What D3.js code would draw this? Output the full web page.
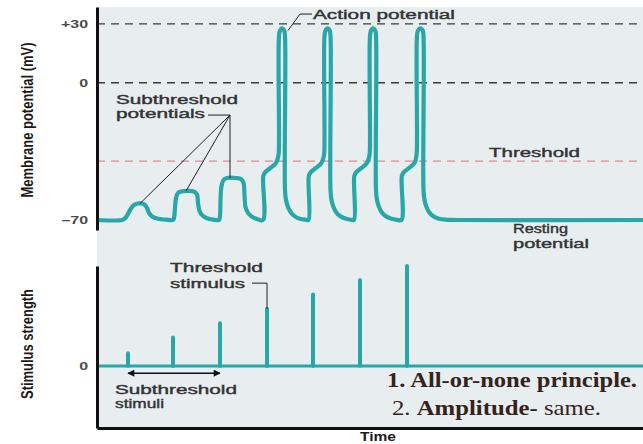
<!DOCTYPE html>
<html>
<head>
<meta charset="utf-8">
<script src="https://cdn.jsdelivr.net/npm/d3@7"></script>
<style>
  body { margin: 0; background: #fff; }
  svg { display: block; }
  .lbl { font-family: "Liberation Sans", Arial, sans-serif; font-size: 13px; fill: #333; stroke: #333; stroke-width: 0.4px; }
  .tick-lbl { font-family: "Liberation Sans", Arial, sans-serif; font-size: 11px; font-weight: bold; fill: #4a4a4a; }
  .ytitle { font-family: "Liberation Sans Narrow", "Liberation Sans", Arial, sans-serif; font-size: 13px; font-weight: bold; fill: #1a1a1a; }
  .note { font-family: "Liberation Serif", "Times New Roman", serif; font-size: 21px; fill: #34231a; }
</style>
</head>
<body>
<div id="chart"></div>
<script>
const width = 643;
const height = 444;

// membrane potential trace, [time, mV] (time in arbitrary units)
const restStart = [[0, -70], [25, -70]];
const subthreshold1 = [[28, -69.2], [31, -66.9], [34, -64.1], [37, -62.4], [41, -61.6], [45, -61.6], [48, -62.4], [50, -63.9], [52, -66.4], [55, -68.2], [61, -69.4], [69, -69.8], [76, -70]];
const subthreshold2 = [[77, -69], [78, -63.9], [79, -58.8], [81, -56.2], [84, -55.5], [91, -55.2], [97, -55.5], [100, -57], [101, -61.3], [102.5, -65.4], [105.5, -67.7], [110, -69.1], [116, -69.8], [122, -70]];
const subthreshold3 = [[123, -68], [123.5, -59.8], [124.5, -52.7], [126.5, -49.6], [130, -48.6], [139, -48.6], [144, -49.1], [146.5, -51.1], [147.5, -57.3], [148.5, -63.4], [151, -66.4], [155, -68.4], [160, -69.5], [166, -70]];
const action1 = [[166.3, -47.6], [168, -45.8], [179, -40.9], [181.5, -36.9], [182, -29.2], [182, 23.8], [183, 26.6], [185, 27.7], [187.2, 26.6], [188, 23.8], [188, -54.7], [189, -59.8], [191, -63.4], [193.5, -65.9], [197.5, -68], [203, -69.4], [209, -69.9], [211.5, -70]];
const action2 = [[211.8, -47.6], [213.5, -45.8], [224.5, -40.9], [227, -36.9], [227.5, -29.2], [227.5, 23.8], [228.5, 26.6], [230.5, 27.7], [232.7, 26.6], [233.5, 23.8], [233.5, -54.7], [234.5, -59.8], [236.5, -63.4], [239, -65.9], [243, -68], [249, -69.4], [254.5, -69.9], [257, -70]];
const action3 = [[257.3, -47.6], [259, -45.8], [270, -40.9], [272.5, -36.9], [273, -29.2], [273, 23.8], [274, 26.6], [276, 27.7], [278.2, 26.6], [279, 23.8], [279, -54.7], [280, -59.8], [282, -63.4], [284.5, -65.9], [288.5, -68], [294.5, -69.4], [300, -69.9], [304.5, -70]];
const action4 = [[304.8, -47.6], [306.5, -45.8], [317.5, -40.9], [319.5, -36.9], [320, -29.2], [320, 23.8], [321, 26.6], [323.3, 27.7], [325.7, 26.6], [326.5, 23.8], [326.5, -54.7], [327.5, -59.8], [329.5, -63.4], [332, -65.9], [336, -68], [342, -69.4], [350, -69.9], [360, -70]];
const restEnd = [[546, -70]];

// stimuli
const stimulusTimes = [31, 76, 123, 170, 216, 263, 310];
const stimulusStrength = [0.9, 2, 3, 4, 5, 6, 7];

// reference levels and ticks
const mvTicks = [30, 0, -70];
const mvTickLabels = ["+30", "0", "\u201370"];
const dashedLevels = [30, 0];
const thresholdMv = -40;
const stimTicks = [0];
const stimTickLabels = ["0"];

const trace = [].concat(restStart, subthreshold1, subthreshold2, subthreshold3,
  action1, action2, action3, action4, restEnd);

const teal = "#27a7a8";

const svg = d3.select("#chart").append("svg")
  .attr("width", width)
  .attr("height", height);

// scales
const x = d3.scaleLinear().domain([0, 546]).range([97, 643]);
const yMv = d3.scaleLinear().domain([-75.1, 38.6]).range([230, 7]);
const yStim = d3.scaleLinear().domain([-4.34, 7]).range([428, 266]);

// panel background
svg.append("rect")
  .attr("x", x.range()[0])
  .attr("y", yMv.range()[1])
  .attr("width", x.range()[1] - x.range()[0])
  .attr("height", yStim.range()[0] - yMv.range()[1])
  .attr("fill", "#e8edf0");

// dashed reference lines
svg.selectAll("line.level")
  .data(dashedLevels)
  .enter().append("line")
  .attr("class", "level")
  .attr("x1", x.range()[0]).attr("x2", x.range()[1])
  .attr("y1", d => yMv(d)).attr("y2", d => yMv(d))
  .attr("stroke", "#3a3a3a")
  .attr("stroke-width", 1.4)
  .attr("stroke-dasharray", "8,6");

svg.append("line")
  .attr("x1", x.range()[0]).attr("x2", x.range()[1])
  .attr("y1", yMv(thresholdMv)).attr("y2", yMv(thresholdMv))
  .attr("stroke", "#e08a8e")
  .attr("stroke-width", 1.1)
  .attr("stroke-dasharray", "8,6");

// membrane trace
const line = d3.line()
  .x(d => x(d[0]))
  .y(d => yMv(d[1]))
  .curve(d3.curveCatmullRom.alpha(0.5));

svg.append("path")
  .datum(trace)
  .attr("fill", "none")
  .attr("stroke", teal)
  .attr("stroke-width", 4.2)
  .attr("stroke-linejoin", "round")
  .attr("d", line);

// stimulus baseline and bars
svg.append("line")
  .attr("x1", x.range()[0]).attr("x2", x.range()[1])
  .attr("y1", yStim(0)).attr("y2", yStim(0))
  .attr("stroke", teal)
  .attr("stroke-width", 3);

svg.selectAll("line.stim")
  .data(stimulusTimes)
  .enter().append("line")
  .attr("class", "stim")
  .attr("x1", d => x(d)).attr("x2", d => x(d))
  .attr("y1", yStim(0))
  .attr("y2", (d, i) => yStim(stimulusStrength[i]))
  .attr("stroke", teal)
  .attr("stroke-width", 4)
  .attr("stroke-linecap", "round");

// axes
function styleAxis(g, labels) {
  g.select(".domain").attr("stroke", "#111").attr("stroke-width", 3);
  g.selectAll(".tick line").remove();
  g.selectAll(".tick text")
    .attr("class", "tick-lbl")
    .attr("font-size", null)
    .attr("font-family", null)
    .attr("fill", null)
    .text((d, i) => labels[i])
    .each(function() {
      const w = this.getComputedTextLength();
      d3.select(this).attr("textLength", w * 1.45).attr("lengthAdjust", "spacingAndGlyphs");
    });
}

svg.append("g")
  .attr("transform", `translate(${x.range()[0]},0)`)
  .call(d3.axisLeft(yMv).tickValues(mvTicks).tickSize(0).tickPadding(9))
  .call(g => styleAxis(g, mvTickLabels));

svg.append("g")
  .attr("transform", `translate(${x.range()[0]},0)`)
  .call(d3.axisLeft(yStim).tickValues(stimTicks).tickSize(0).tickPadding(9))
  .call(g => styleAxis(g, stimTickLabels));

svg.append("g")
  .attr("transform", `translate(0,${yStim.range()[0]})`)
  .call(d3.axisBottom(x).tickValues([]).tickSizeOuter(0))
  .call(g => g.select(".domain").attr("stroke", "#111").attr("stroke-width", 3));

// axis titles
svg.append("text")
  .attr("class", "ytitle")
  .attr("transform", "translate(33,120) scale(1.2,1) rotate(-90)")
  .attr("text-anchor", "middle")
  .attr("textLength", 155)
  .attr("lengthAdjust", "spacingAndGlyphs")
  .text("Membrane potential (mV)");

svg.append("text")
  .attr("class", "ytitle")
  .attr("transform", "translate(33,344) scale(1.2,1) rotate(-90)")
  .attr("text-anchor", "middle")
  .attr("textLength", 110)
  .attr("lengthAdjust", "spacingAndGlyphs")
  .text("Stimulus strength");

svg.append("text")
  .attr("class", "ytitle")
  .attr("x", 360).attr("y", 441)
  .attr("textLength", 36)
  .attr("lengthAdjust", "spacingAndGlyphs")
  .style("font-size", "12px")
  .text("Time");

// annotation labels
const labels = [
  { text: "Subthreshold", x: 116, y: 104, w: 122 },
  { text: "potentials", x: 116, y: 118, w: 89 },
  { text: "Action potential", x: 313, y: 19, w: 142 },
  { text: "Threshold", x: 489, y: 157, w: 91 },
  { text: "Resting", x: 513, y: 233, w: 55 },
  { text: "potential", x: 513, y: 248, w: 76 },
  { text: "Threshold", x: 170, y: 272, w: 93 },
  { text: "stimulus", x: 170, y: 288, w: 75 },
  { text: "Subthreshold", x: 115, y: 394, w: 122 },
  { text: "stimuli", x: 115, y: 408, w: 49 }
];

svg.selectAll("text.lbl")
  .data(labels)
  .enter().append("text")
  .attr("class", "lbl")
  .attr("x", d => d.x)
  .attr("y", d => d.y)
  .attr("textLength", d => d.w)
  .attr("lengthAdjust", "spacingAndGlyphs")
  .text(d => d.text);

// leader lines (anchored in data units)
const leader = d3.line().x(d => x(d[0])).y(d => yMv(d[1]));
const leaderStim = d3.line().x(d => x(d[0])).y(d => yStim(d[1]));
const leaderStyle = p => p.attr("fill", "none").attr("stroke", "#222").attr("stroke-width", 1);

[[[111, -16.5], [133, -16.5]],
 [[133, -16.5], [43, -61.6]],
 [[133, -16.5], [89, -55.2]],
 [[133, -16.5], [133, -48.6]],
 [[215, 35], [203, 35], [191, 26.6]]
].forEach(pts => svg.append("path").attr("d", leader(pts)).call(leaderStyle));

svg.append("path")
  .attr("d", leaderStim([[155, 5.8], [170, 5.8], [170, 4]]))
  .call(leaderStyle);

// double arrow under subthreshold stimuli
const defs = svg.append("defs");
defs.append("marker")
  .attr("id", "arrow")
  .attr("viewBox", "0 0 10 10")
  .attr("refX", 9).attr("refY", 5)
  .attr("markerWidth", 9).attr("markerHeight", 7)
  .attr("markerUnits", "userSpaceOnUse")
  .attr("orient", "auto-start-reverse")
  .append("path")
  .attr("d", "M0,0L10,5L0,10z")
  .attr("fill", "#111");

svg.append("line")
  .attr("x1", x(stimulusTimes[0])).attr("x2", x(stimulusTimes[2]))
  .attr("y1", yStim(-0.5)).attr("y2", yStim(-0.5))
  .attr("stroke", "#111")
  .attr("stroke-width", 1.5)
  .attr("marker-start", "url(#arrow)")
  .attr("marker-end", "url(#arrow)");

// notes
svg.append("text")
  .attr("class", "note")
  .attr("x", 387).attr("y", 387)
  .attr("textLength", 250)
  .attr("lengthAdjust", "spacingAndGlyphs")
  .style("font-weight", "bold")
  .text("1. All-or-none principle.");

const note2 = svg.append("text")
  .attr("class", "note")
  .attr("x", 392).attr("y", 415)
  .attr("textLength", 209)
  .attr("lengthAdjust", "spacingAndGlyphs");
note2.append("tspan").text("2. ");
note2.append("tspan").style("font-weight", "bold").text("Amplitude-");
note2.append("tspan").text(" same.");
</script>
</body>
</html>
